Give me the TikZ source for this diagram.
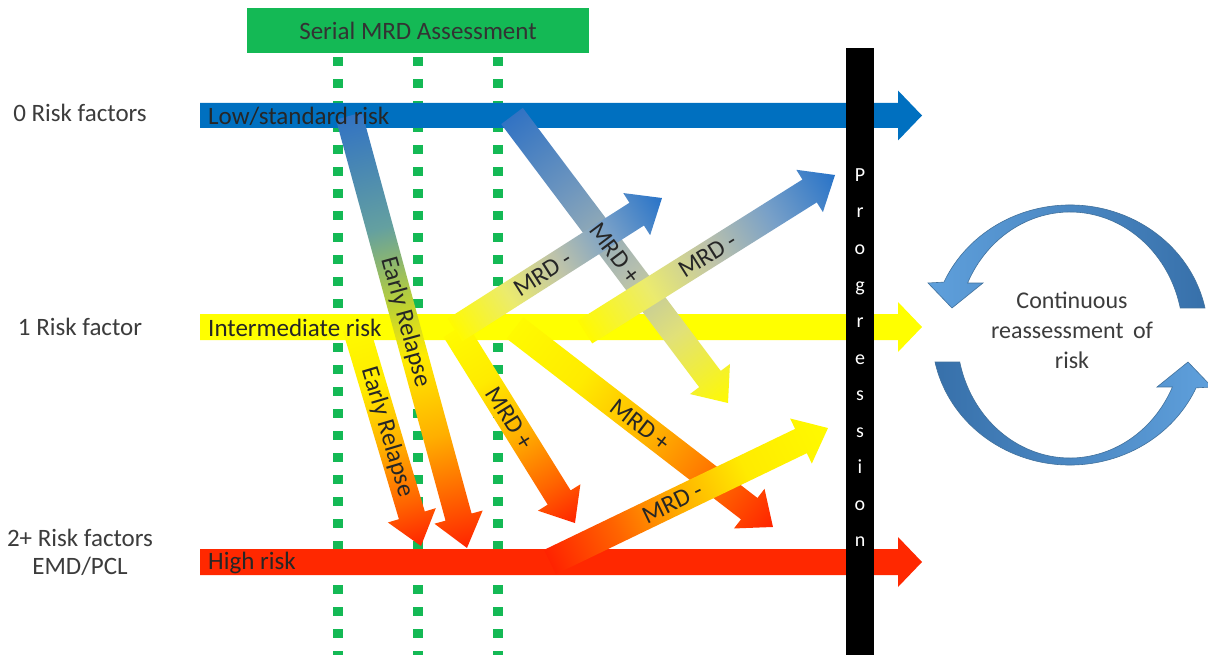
\documentclass[tikz,border=0pt]{standalone}
\usepackage{fontspec}
\setmainfont{Carlito}
\usetikzlibrary{calc}
\definecolor{cBlue}{RGB}{0,112,192}
\definecolor{cYel}{RGB}{255,255,0}
\definecolor{cRed}{RGB}{255,40,0}
\definecolor{cGreen}{RGB}{20,185,85}
\definecolor{cTxt}{RGB}{60,60,60}
\definecolor{cycLight}{RGB}{95,160,220}
\definecolor{cycDark}{RGB}{55,112,170}
\definecolor{cycLine}{RGB}{65,113,156}
% shading colours
\definecolor{bA}{RGB}{50,115,195}
\definecolor{bB}{RGB}{100,160,160}
\definecolor{bC}{RGB}{190,210,50}
\definecolor{yA}{RGB}{255,250,0}
\definecolor{yB}{RGB}{255,235,0}
\definecolor{oA}{RGB}{255,175,0}
\definecolor{oB}{RGB}{255,100,0}
\definecolor{rA}{RGB}{255,35,0}
\definecolor{gA}{RGB}{235,235,110}
\definecolor{gB}{RGB}{190,195,170}
\definecolor{gC}{RGB}{120,160,200}
\definecolor{bT}{RGB}{40,115,200}
\definecolor{gD}{RGB}{110,150,190}
\definecolor{gE}{RGB}{180,190,175}
\definecolor{gF}{RGB}{225,225,120}
\pgfdeclarehorizontalshading{shBR}{100bp}{color(0bp)=(bA); color(25bp)=(bA); color(38bp)=(bB); color(47bp)=(bC); color(53bp)=(yB); color(62bp)=(oA); color(69bp)=(oB); color(75bp)=(rA); color(100bp)=(rA)}
\pgfdeclarehorizontalshading{shYR}{100bp}{color(0bp)=(yA); color(25bp)=(yA); color(38bp)=(yB); color(52bp)=(oA); color(65bp)=(oB); color(75bp)=(rA); color(100bp)=(rA)}
\pgfdeclarehorizontalshading{shRY}{100bp}{color(0bp)=(rA); color(25bp)=(rA); color(37bp)=(oB); color(48bp)=(oA); color(60bp)=(yB); color(75bp)=(yA); color(100bp)=(yA)}
\pgfdeclarehorizontalshading{shYB}{100bp}{color(0bp)=(yA); color(25bp)=(yA); color(38bp)=(gA); color(50bp)=(gB); color(62bp)=(gC); color(75bp)=(bT); color(100bp)=(bT)}
\pgfdeclarehorizontalshading{shBY}{100bp}{color(0bp)=(bA); color(25bp)=(bA); color(38bp)=(gD); color(52bp)=(gE); color(63bp)=(gF); color(75bp)=(yA); color(100bp)=(yA)}
% fat arrow: start, end, path options, shaft half width, head half width, head length
\newcommand\fatarrow[6]{%
  \path let \p1=(#1), \p2=(#2) in \pgfextra{%
    \pgfmathsetmacro\FAa{atan2(\y2-\y1,\x2-\x1)}%
    \pgfmathsetmacro\FAl{100*veclen((\x2-\x1)/100,(\y2-\y1)/100)}%
    \xdef\FAang{\FAa}\xdef\FAlen{\FAl}};
  \begin{scope}[transform canvas={shift={(#1)},rotate=\FAang}]
    \path[#3] (0,-#4) -- (\FAlen-#6,-#4) -- (\FAlen-#6,-#5) -- (\FAlen,0)
      -- (\FAlen-#6,#5) -- (\FAlen-#6,#4) -- (0,#4) -- cycle;
  \end{scope}}
\tikzset{
  big/.style={font=\fontsize{25}{30}\selectfont},
  side/.style={big, text=cTxt, align=center, inner sep=0},
  barlbl/.style={big, text=black!85, anchor=west, inner sep=0},
  lbl/.style={big, text=black!85, inner sep=0, sloped},
  dots/.style={cGreen, line width=10pt, dash pattern=on 9pt off 13pt},
  shd/.style={shade, shading=#1},
}
\begin{document}
\begin{tikzpicture}[x=1pt,y=-1pt]
\fill[white] (0,0) rectangle (1208,655);
\useasboundingbox (0,0) rectangle (1208,655);

% header box
\node[fill=cGreen, minimum width=342pt, minimum height=45pt, inner sep=0,
      big, text=black!80] (hdr) at (418,31) {Serial MRD Assessment};

% dotted assessment lines
\coordinate (d1t) at (338,57); \coordinate (d1b) at (338,655);
\coordinate (d2t) at (418,57); \coordinate (d2b) at (418,655);
\coordinate (d3t) at (498,57); \coordinate (d3b) at (498,655);
\draw[dots] (d1t) -- (d1b);
\draw[dots] (d2t) -- (d2b);
\draw[dots] (d3t) -- (d3b);

% risk bars
\coordinate (lowS) at (200,115.5); \coordinate (lowE) at (922,115.5);
\coordinate (intS) at (200,327);   \coordinate (intE) at (922,327);
\coordinate (hiS)  at (200,562);   \coordinate (hiE)  at (922,562);
\fatarrow{lowS}{lowE}{fill=cBlue}{12.5}{25}{24}
\fatarrow{intS}{intE}{fill=cYel}{13}{25}{24}
\fatarrow{hiS}{hiE}{fill=cRed}{13}{25}{24}

% transition arrows
\coordinate (a1s) at (349,116); \coordinate (a1e) at (467,548);
\coordinate (a2s) at (356,328); \coordinate (a2e) at (421,546);
\coordinate (a3s) at (455,330); \coordinate (a3e) at (575,523);
\coordinate (a4s) at (515,328); \coordinate (a4e) at (773,527);
\coordinate (a8s) at (512,116); \coordinate (a8e) at (728,403);
\coordinate (a6s) at (455,330); \coordinate (a6e) at (662,198);
\coordinate (a7s) at (585,332); \coordinate (a7e) at (835,175);
\coordinate (a5s) at (550,562); \coordinate (a5e) at (828,428);
\fatarrow{a1s}{a1e}{shd=shBR}{13.5}{25}{32}
\fatarrow{a2s}{a2e}{shd=shYR}{13.5}{25}{32}
\fatarrow{a3s}{a3e}{shd=shYR}{13.5}{25}{30}
\fatarrow{a4s}{a4e}{shd=shYR}{13.5}{25}{30}
\fatarrow{a8s}{a8e}{shd=shBY}{13.5}{25}{30}
\fatarrow{a6s}{a6e}{shd=shYB}{13.5}{25}{30}
\fatarrow{a7s}{a7e}{shd=shYB}{13.5}{25}{30}
\fatarrow{a5s}{a5e}{shd=shRY}{13.5}{25}{30}

% progression bar
\node[fill=black, minimum width=28pt, minimum height=607pt, inner sep=0, anchor=north] (prog) at (860,48) {};
\foreach \l [count=\i] in {P,r,o,g,r,e,s,s,i,o,n}
  \node[font=\fontsize{20}{24}\selectfont, text=white, anchor=base, inner sep=0] (pl\i) at (860,{181.5+(\i-1)*36.5}) {\l};

% arrow labels
\path (a1s) -- (a1e) node[lbl, pos=.477] (t1) {Early Relapse};
\path (a2s) -- (a2e) node[lbl, pos=.477] (t2) {Early Relapse};
\path (a3s) -- (a3e) node[lbl, pos=.456] (t3) {MRD +};
\path (a4s) -- (a4e) node[lbl, pos=.487] (t4) {MRD +};
\path (a8s) -- (a8e) node[lbl, pos=.477] (t8) {MRD +};
\path (a6s) -- (a6e) node[lbl, pos=.425] (t6) {MRD -};
\path (a7s) -- (a7e) node[lbl, pos=.49] (t7) {MRD -};
\path (a5s) -- (a5e) node[lbl, pos=.44] (t5) {MRD -};

% bar labels
\node[barlbl] (lowT) at (208,116) {Low/standard risk};
\node[barlbl] (intT) at (208,328) {Intermediate risk};
\node[barlbl] (hiT)  at (208,563) {High risk};

% left labels
\node[side] (r0) at (80,113) {0 Risk factors};
\node[side] (r1) at (80,327) {1 Risk factor};
\node[side] (r2) at (80,552) {2+ Risk factors\\[-2pt]EMD/PCL};

% reassessment cycle
\coordinate (cyc) at (1070,335);
\shade[left color=cycLight, right color=cycDark, draw=cycLine, line width=0.6pt]
  (cyc) ++(-12:138 and 130) arc[start angle=-12, end angle=-156, x radius=138, y radius=130]
  -- (928,283) -- (952,308) -- (983,283)
  -- ($(cyc)+(-155:113 and 123)$) arc[start angle=-155, end angle=-12.7, x radius=113, y radius=123]
  -- cycle;
\shade[left color=cycDark, right color=cycLight, draw=cycLine, line width=0.6pt]
  (cyc) ++(168:138 and 130) arc[start angle=168, end angle=24, x radius=138, y radius=130]
  -- (1212,387) -- (1188,362) -- (1157,387)
  -- ($(cyc)+(25:113 and 123)$) arc[start angle=25, end angle=167.3, x radius=113, y radius=123]
  -- cycle;
\node[text=cTxt, align=center, inner sep=0, font=\fontsize{24}{30}\selectfont] (cycT) at (1072,330)
  {Continuous\\reassessment\, of\\risk};
\end{tikzpicture}
\end{document}
